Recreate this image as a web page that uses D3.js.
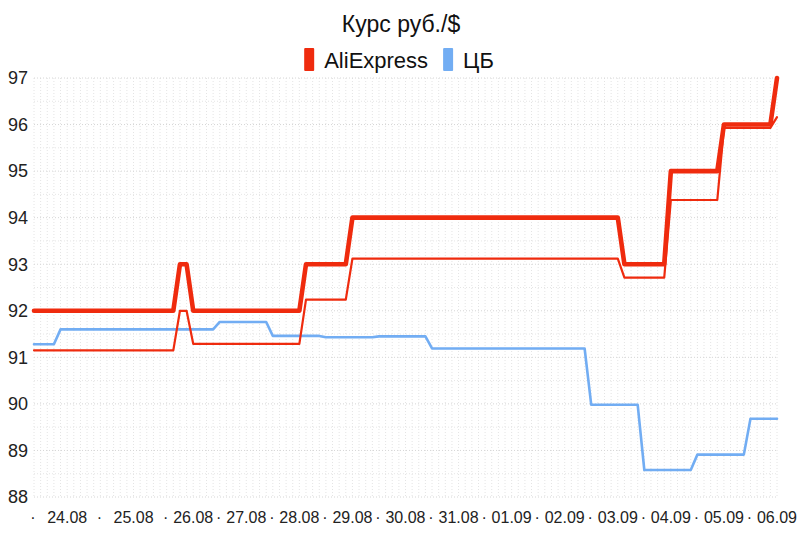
<!DOCTYPE html>
<html>
<head>
<meta charset="utf-8">
<script src="https://cdn.jsdelivr.net/npm/d3@7"></script>
<style>
  html, body { margin: 0; padding: 0; background: #fff; }
  svg { display: block; font-family: "Liberation Sans", Arial, sans-serif; }
</style>
</head>
<body>
<svg id="chart" width="800" height="533"></svg>
<script>
// ---- DATA ----
const title = "Курс руб./$";
const seriesNames = ["AliExpress", "ЦБ"];
const days = ["24.08","25.08","26.08","27.08","28.08","29.08","30.08","31.08","01.09","02.09","03.09","04.09","05.09","06.09"];
// number of sample slots per day (the last day is still in progress)
const daySlots = [10,10,8,8,8,8,8,8,8,8,8,8,8,8];
const yTicks = [88,89,90,91,92,93,94,95,96,97];

// AliExpress rate (upper, bold line)
const aliExpress = [
  92,92,92,92,92,92,92,92,92,92,            // 24.08
  92,92,92,92,92,92,92,92,92,92,            // 25.08
  92,92,93,93,92,92,92,92,                  // 26.08
  92,92,92,92,92,92,92,92,                  // 27.08
  92,92,92,92,92,93,93,93,                  // 28.08
  93,93,93,93,94,94,94,94,                  // 29.08
  94,94,94,94,94,94,94,94,                  // 30.08
  94,94,94,94,94,94,94,94,                  // 31.08
  94,94,94,94,94,94,94,94,                  // 01.09
  94,94,94,94,94,94,94,94,                  // 02.09
  94,94,94,94,94,93,93,93,                  // 03.09
  93,93,93,93,95,95,95,95,                  // 04.09
  95,95,95,95,96,96,96,96,                  // 05.09
  96,96,96,96,97                            // 06.09
];
// AliExpress rate (lower, thin line)
const aliExpress2 = [
  91.15,91.15,91.15,91.15,91.15,91.15,91.15,91.15,91.15,91.15,
  91.15,91.15,91.15,91.15,91.15,91.15,91.15,91.15,91.15,91.15,
  91.15,91.15,92.0,92.0,91.29,91.29,91.29,91.29,
  91.29,91.29,91.29,91.29,91.29,91.29,91.29,91.29,
  91.29,91.29,91.29,91.29,91.29,92.24,92.24,92.24,
  92.24,92.24,92.24,92.24,93.12,93.12,93.12,93.12,
  93.12,93.12,93.12,93.12,93.12,93.12,93.12,93.12,
  93.12,93.12,93.12,93.12,93.12,93.12,93.12,93.12,
  93.12,93.12,93.12,93.12,93.12,93.12,93.12,93.12,
  93.12,93.12,93.12,93.12,93.12,93.12,93.12,93.12,
  93.12,93.12,93.12,93.12,93.12,92.71,92.71,92.71,
  92.71,92.71,92.71,92.71,94.38,94.38,94.38,94.38,
  94.38,94.38,94.38,94.38,95.93,95.93,95.93,95.93,
  95.93,95.93,95.93,95.93,96.16
];
// Central Bank rate
const cb = [
  91.28,91.28,91.28,91.28,91.60,91.60,91.60,91.60,91.60,91.60,
  91.60,91.60,91.60,91.60,91.60,91.60,91.60,91.60,91.60,91.60,
  91.60,91.60,91.60,91.60,91.60,91.60,91.60,91.60,
  91.76,91.76,91.76,91.76,91.76,91.76,91.76,91.76,
  91.46,91.46,91.46,91.46,91.46,91.46,91.46,91.46,
  91.43,91.43,91.43,91.43,91.43,91.43,91.43,91.43,
  91.45,91.45,91.45,91.45,91.45,91.45,91.45,91.45,
  91.19,91.19,91.19,91.19,91.19,91.19,91.19,91.19,
  91.19,91.19,91.19,91.19,91.19,91.19,91.19,91.19,
  91.19,91.19,91.19,91.19,91.19,91.19,91.19,91.19,
  89.98,89.98,89.98,89.98,89.98,89.98,89.98,89.98,
  88.58,88.58,88.58,88.58,88.58,88.58,88.58,88.58,
  88.91,88.91,88.91,88.91,88.91,88.91,88.91,88.91,
  89.68,89.68,89.68,89.68,89.68
];

// ---- LAYOUT ----
const W = 800, H = 533;
const margin = {left: 34, right: 23, top: 78, bottom: 36};
const red = "#ef2b0e", blue = "#72adf3";

const svg = d3.select("#chart");
const n = aliExpress.length;
const x = d3.scaleLinear().domain([0, n - 1]).range([margin.left, W - margin.right]);
const y = d3.scaleLinear().domain([88, 97]).range([H - margin.bottom, margin.top]);

// day slot starts
const dayStart = [];
let acc = 0;
daySlots.forEach(c => { dayStart.push(acc); acc += c; });

// ---- GRID ----
const grid = svg.append("g");
// vertical dotted lines at each sample
grid.selectAll("line.v").data(d3.range(0, n)).join("line")
  .attr("x1", d => x(d)).attr("x2", d => x(d))
  .attr("y1", y(97)).attr("y2", y(88))
  .attr("stroke", "#e4e4e4").attr("stroke-width", 1).attr("stroke-dasharray", "1,2");
// horizontal lines (integers darker, halves lighter)
grid.selectAll("line.hm").data(d3.range(88, 97.01, 0.5)).join("line")
  .attr("x1", x(0)).attr("x2", x(n - 1))
  .attr("y1", d => y(d)).attr("y2", d => y(d))
  .attr("stroke", d => Number.isInteger(d) ? "#d6d6d6" : "#e6e6e6")
  .attr("stroke-width", 1).attr("stroke-dasharray", "1,2");

// ---- LINES ----
const line = d3.line().x((d, i) => x(i)).y(d => y(d)).curve(d3.curveLinear);
const lines = svg.append("g").attr("fill", "none").attr("stroke-linejoin", "round").attr("stroke-linecap", "round");
lines.append("path").datum(cb).attr("d", line).attr("stroke", blue).attr("stroke-width", 2.6);
lines.append("path").datum(aliExpress2).attr("d", line).attr("stroke", red).attr("stroke-width", 2.2);
lines.append("path").datum(aliExpress).attr("d", line).attr("stroke", red).attr("stroke-width", 4.6);

// ---- Y AXIS LABELS ----
svg.append("g").selectAll("text").data(yTicks).join("text")
  .attr("x", 28).attr("y", d => y(d)).attr("dy", "0.35em")
  .attr("text-anchor", "end").attr("font-size", 18).attr("fill", "#222")
  .text(d => d);

// ---- X AXIS LABELS ----
const xl = svg.append("g");
const labelY = 523;
xl.selectAll("text.day").data(days).join("text")
  .attr("x", (d, i) => x(dayStart[i] + daySlots[i] / 2))
  .attr("y", labelY).attr("text-anchor", "middle")
  .attr("font-size", 16).attr("fill", "#222").text(d => d);
xl.selectAll("text.dot").data(days).join("text")
  .attr("x", (d, i) => x(dayStart[i]) - 1)
  .attr("y", labelY).attr("text-anchor", "middle")
  .attr("font-size", 16).attr("fill", "#222").text("·");

// ---- TITLE ----
svg.append("text").attr("x", 401).attr("y", 32).attr("text-anchor", "middle")
  .attr("font-size", 23).attr("fill", "#111").text(title);

// ---- LEGEND ----
const leg = svg.append("g");
const colors = [red, blue];
let lx = 0;
seriesNames.forEach((name, i) => {
  const g = leg.append("g");
  g.append("rect").attr("x", 0).attr("y", 48).attr("width", 10).attr("height", 23).attr("rx", 1).attr("fill", colors[i]);
  const t = g.append("text").attr("x", 20).attr("y", 68).attr("font-size", 22).attr("fill", "#111").text(name);
  const w = 20 + t.node().getComputedTextLength();
  g.attr("transform", `translate(${lx},0)`);
  lx += w + 15;
});
const totalW = lx - 15;
leg.attr("transform", `translate(${399 - totalW / 2},0)`);
</script>
</body>
</html>
